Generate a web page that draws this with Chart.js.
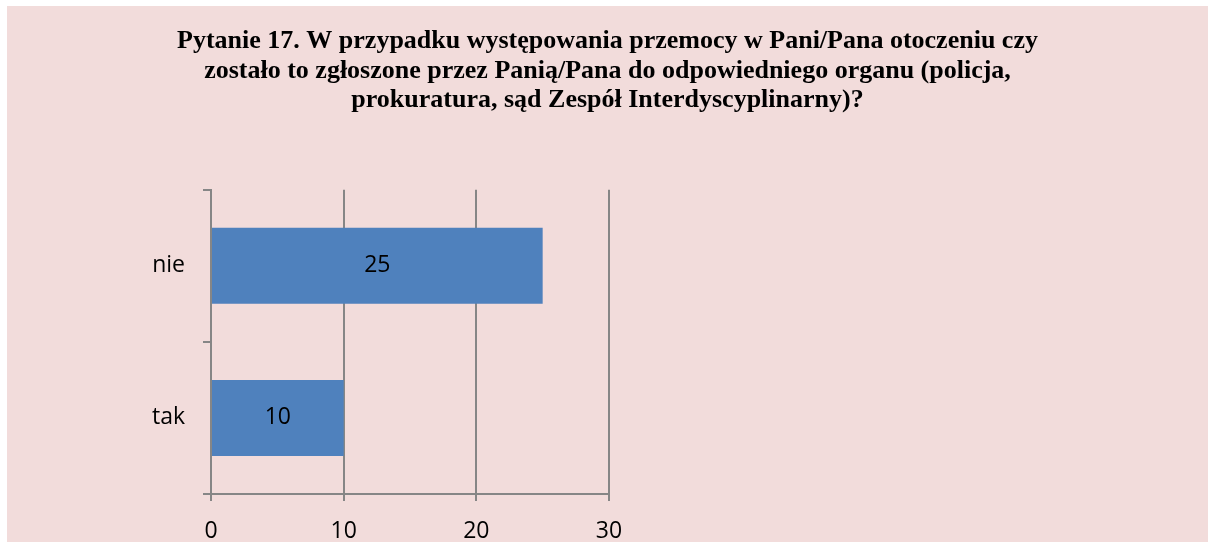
<!DOCTYPE html>
<html>
<head>
<meta charset="utf-8">
<script src="https://cdn.jsdelivr.net/npm/chart.js@4"></script>
<style>
  html, body { margin: 0; padding: 0; background: #ffffff; }
  #wrap { position: absolute; left: 7px; top: 6px; width: 1201px; height: 536px; background: #F2DCDB; }
</style>
</head>
<body>
<div id="wrap"><canvas id="myChart" width="1201" height="536"></canvas></div>
<script>
const titleLines = [
  'Pytanie 17. W przypadku występowania przemocy w Pani/Pana otoczeniu czy',
  'zostało to zgłoszone przez Panią/Pana do odpowiedniego organu (policja,',
  'prokuratura, sąd Zespół Interdyscyplinarny)?'
];
const categories = ['nie', 'tak'];
const answers = [25, 10];
const xTicks = [0, 10, 20, 30];

const gridGray = '#868686';

// value labels in the middle of each bar
const barValues = {
  id: 'barValues',
  afterDatasetsDraw(chart) {
    const ctx = chart.ctx;
    const meta = chart.getDatasetMeta(0);
    ctx.save();
    ctx.font = '23px "Open Sans"';
    ctx.fillStyle = '#000000';
    ctx.textAlign = 'center';
    ctx.textBaseline = 'middle';
    meta.data.forEach((bar, i) => {
      ctx.fillText(String(answers[i]), (bar.x + bar.base) / 2, bar.y);
    });
    ctx.restore();
  }
};

const ctx = document.getElementById('myChart').getContext('2d');
window.myChart = new Chart(ctx, {
  type: 'bar',
  data: {
    labels: categories,
    datasets: [{
      data: answers,
      backgroundColor: '#4F81BD',
      borderWidth: 0,
      barPercentage: 0.5,
      categoryPercentage: 1
    }]
  },
  plugins: [barValues],
  options: {
    indexAxis: 'y',
    responsive: false,
    animation: false,
    layout: { padding: 0 },
    plugins: {
      legend: { display: false },
      tooltip: { enabled: false },
      title: {
        display: true,
        text: titleLines,
        color: '#000000',
        font: { family: '"Liberation Serif"', size: 26, weight: 'bold', lineHeight: 1.15 },
        padding: { top: 20, bottom: 74 }
      }
    },
    scales: {
      x: {
        min: 0,
        max: 30,
        afterBuildTicks: (s) => { s.ticks = xTicks.map(v => ({ value: v })); },
        afterFit: (s) => { s.height = 48; },
        grid: { color: gridGray, lineWidth: 2, tickLength: 7, tickColor: gridGray },
        border: { color: gridGray, width: 2 },
        ticks: { color: '#000000', font: { family: '"Open Sans"', size: 23 }, padding: 17 }
      },
      y: {
        afterFit: (s) => { s.width = 204; },
        grid: { drawOnChartArea: false, color: gridGray, lineWidth: 2, tickLength: 8, tickColor: gridGray },
        border: { color: gridGray, width: 2 },
        ticks: { color: '#000000', font: { family: '"Open Sans"', size: 23 }, padding: 18 }
      },
      yRight: {
        type: 'category',
        position: 'right',
        labels: categories,
        afterFit: (s) => { s.width = 599; },
        grid: { display: false },
        border: { display: false },
        ticks: { display: false }
      }
    }
  }
});
</script>
</body>
</html>
